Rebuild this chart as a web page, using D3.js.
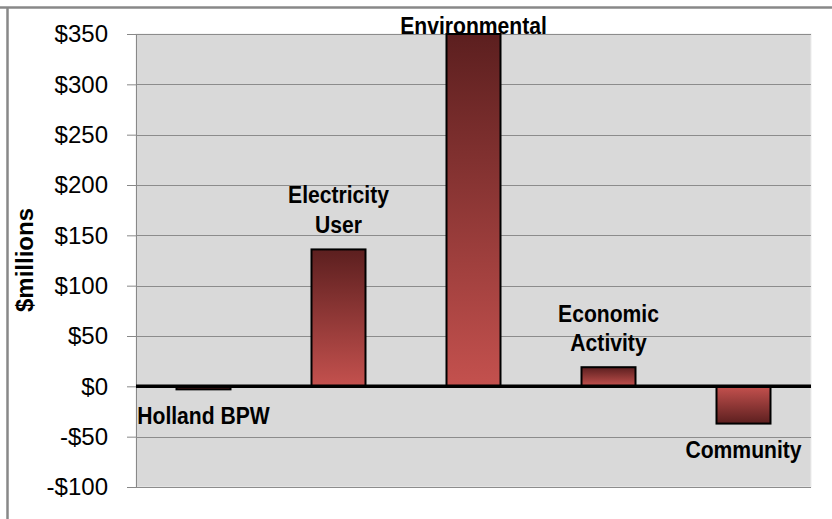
<!DOCTYPE html>
<html>
<head>
<meta charset="utf-8">
<script src="https://cdn.jsdelivr.net/npm/d3@7"></script>
<style>
  html, body { margin: 0; padding: 0; background: #fff; }
  svg { display: block; }
</style>
</head>
<body>
<svg id="chart" width="832" height="519"></svg>
<script>
// Net benefit by stakeholder group ($ millions)
const categories = ["Holland BPW", "Electricity User", "Environmental", "Economic Activity", "Community"];
const labelLines = [["Holland BPW"], ["Electricity", "User"], ["Environmental"], ["Economic", "Activity"], ["Community"]];
const values = [-3, 136, 350, 19, -37];
const tickValues = [-100, -50, 0, 50, 100, 150, 200, 250, 300, 350];

const svg = d3.select("#chart");
const margin = { left: 136, right: 21, top: 34, bottom: 32 };
const W = 832, H = 519;
const FONT = "Liberation Sans, Arial, sans-serif";

// Outer frame (top and left edges visible)
svg.append("line").attr("x1", 0).attr("x2", W).attr("y1", 7.5).attr("y2", 7.5)
  .attr("stroke", "#888").attr("stroke-width", 2.5);
svg.append("line").attr("x1", 7.5).attr("x2", 7.5).attr("y1", 7).attr("y2", H)
  .attr("stroke", "#888").attr("stroke-width", 2.5);

const x = d3.scaleBand().domain(categories)
  .range([margin.left, W - margin.right]).paddingInner(0.6).paddingOuter(0.3);
const y = d3.scaleLinear().domain([-100, 350]).range([H - margin.bottom, margin.top]);

// Plot background
svg.append("rect")
  .attr("x", margin.left).attr("y", y(350))
  .attr("width", W - margin.right - margin.left).attr("height", y(-100) - y(350))
  .attr("fill", "#d9d9d9").attr("stroke", "#ececec").attr("stroke-width", 1);

// Gradients: dark at bar end away from zero, light near baseline
const defs = svg.append("defs");
const gUp = defs.append("linearGradient").attr("id", "gradUp").attr("x1", 0).attr("y1", 0).attr("x2", 0).attr("y2", 1);
gUp.append("stop").attr("offset", "0%").attr("stop-color", "#5c1f1f");
gUp.append("stop").attr("offset", "100%").attr("stop-color", "#c4514e");
const gDown = defs.append("linearGradient").attr("id", "gradDown").attr("x1", 0).attr("y1", 0).attr("x2", 0).attr("y2", 1);
gDown.append("stop").attr("offset", "0%").attr("stop-color", "#c4514e");
gDown.append("stop").attr("offset", "100%").attr("stop-color", "#5c1f1f");

// Y axis
const yAxis = d3.axisLeft(y).tickValues(tickValues)
  .tickFormat(d => (d < 0 ? "-$" : "$") + Math.abs(d))
  .tickSize(9).tickPadding(19);
const ya = svg.append("g").attr("transform", `translate(${margin.left},0)`).call(yAxis);
ya.select(".domain").attr("stroke", "#888");
ya.selectAll(".tick line").attr("stroke", "#888");
ya.selectAll(".tick text")
  .attr("font-family", FONT)
  .attr("font-size", 24).attr("fill", "#000");

// Gridlines
svg.append("g").selectAll("line").data(tickValues.filter(d => d !== 0))
  .join("line")
  .attr("x1", margin.left).attr("x2", W - margin.right)
  .attr("y1", d => Math.round(y(d)) + 0.5).attr("y2", d => Math.round(y(d)) + 0.5)
  .attr("stroke", "#8c8c8c").attr("stroke-width", 1);

// Bars
svg.append("g").selectAll("rect").data(values)
  .join("rect")
  .attr("x", (d, i) => x(categories[i]))
  .attr("width", x.bandwidth())
  .attr("y", d => y(Math.max(0, d)))
  .attr("height", d => Math.abs(y(d) - y(0)))
  .attr("fill", d => d >= 0 ? "url(#gradUp)" : "url(#gradDown)")
  .attr("stroke", "#000").attr("stroke-width", 2);

// Zero baseline
svg.append("line")
  .attr("x1", margin.left).attr("x2", W - margin.right)
  .attr("y1", y(0)).attr("y2", y(0))
  .attr("stroke", "#000").attr("stroke-width", 3.5);

// Category labels beside each bar (offsets from the bar end, or from zero for the first)
const labelOffsets = [[38], [-46, -16], [0], [-45, -16], [34]];
const labels = svg.append("g")
  .attr("font-family", FONT)
  .attr("font-weight", "bold").attr("font-size", 24).attr("fill", "#000")
  .attr("text-anchor", "middle");
labelLines.forEach((lines, i) => {
  const v = values[i];
  const cx = x(categories[i]) + x.bandwidth() / 2;
  const anchorY = i === 0 ? y(0) : y(v);
  lines.forEach((t, k) => {
    labels.append("text")
      .attr("transform", `translate(${cx},${anchorY + labelOffsets[i][k]}) scale(0.88,1)`)
      .text(t);
  });
});

// Y axis title
svg.append("text")
  .attr("transform", `translate(33,260) rotate(-90)`)
  .attr("text-anchor", "middle")
  .attr("font-family", FONT)
  .attr("font-weight", "bold").attr("font-size", 24)
  .text("$millions");
</script>
</body>
</html>
